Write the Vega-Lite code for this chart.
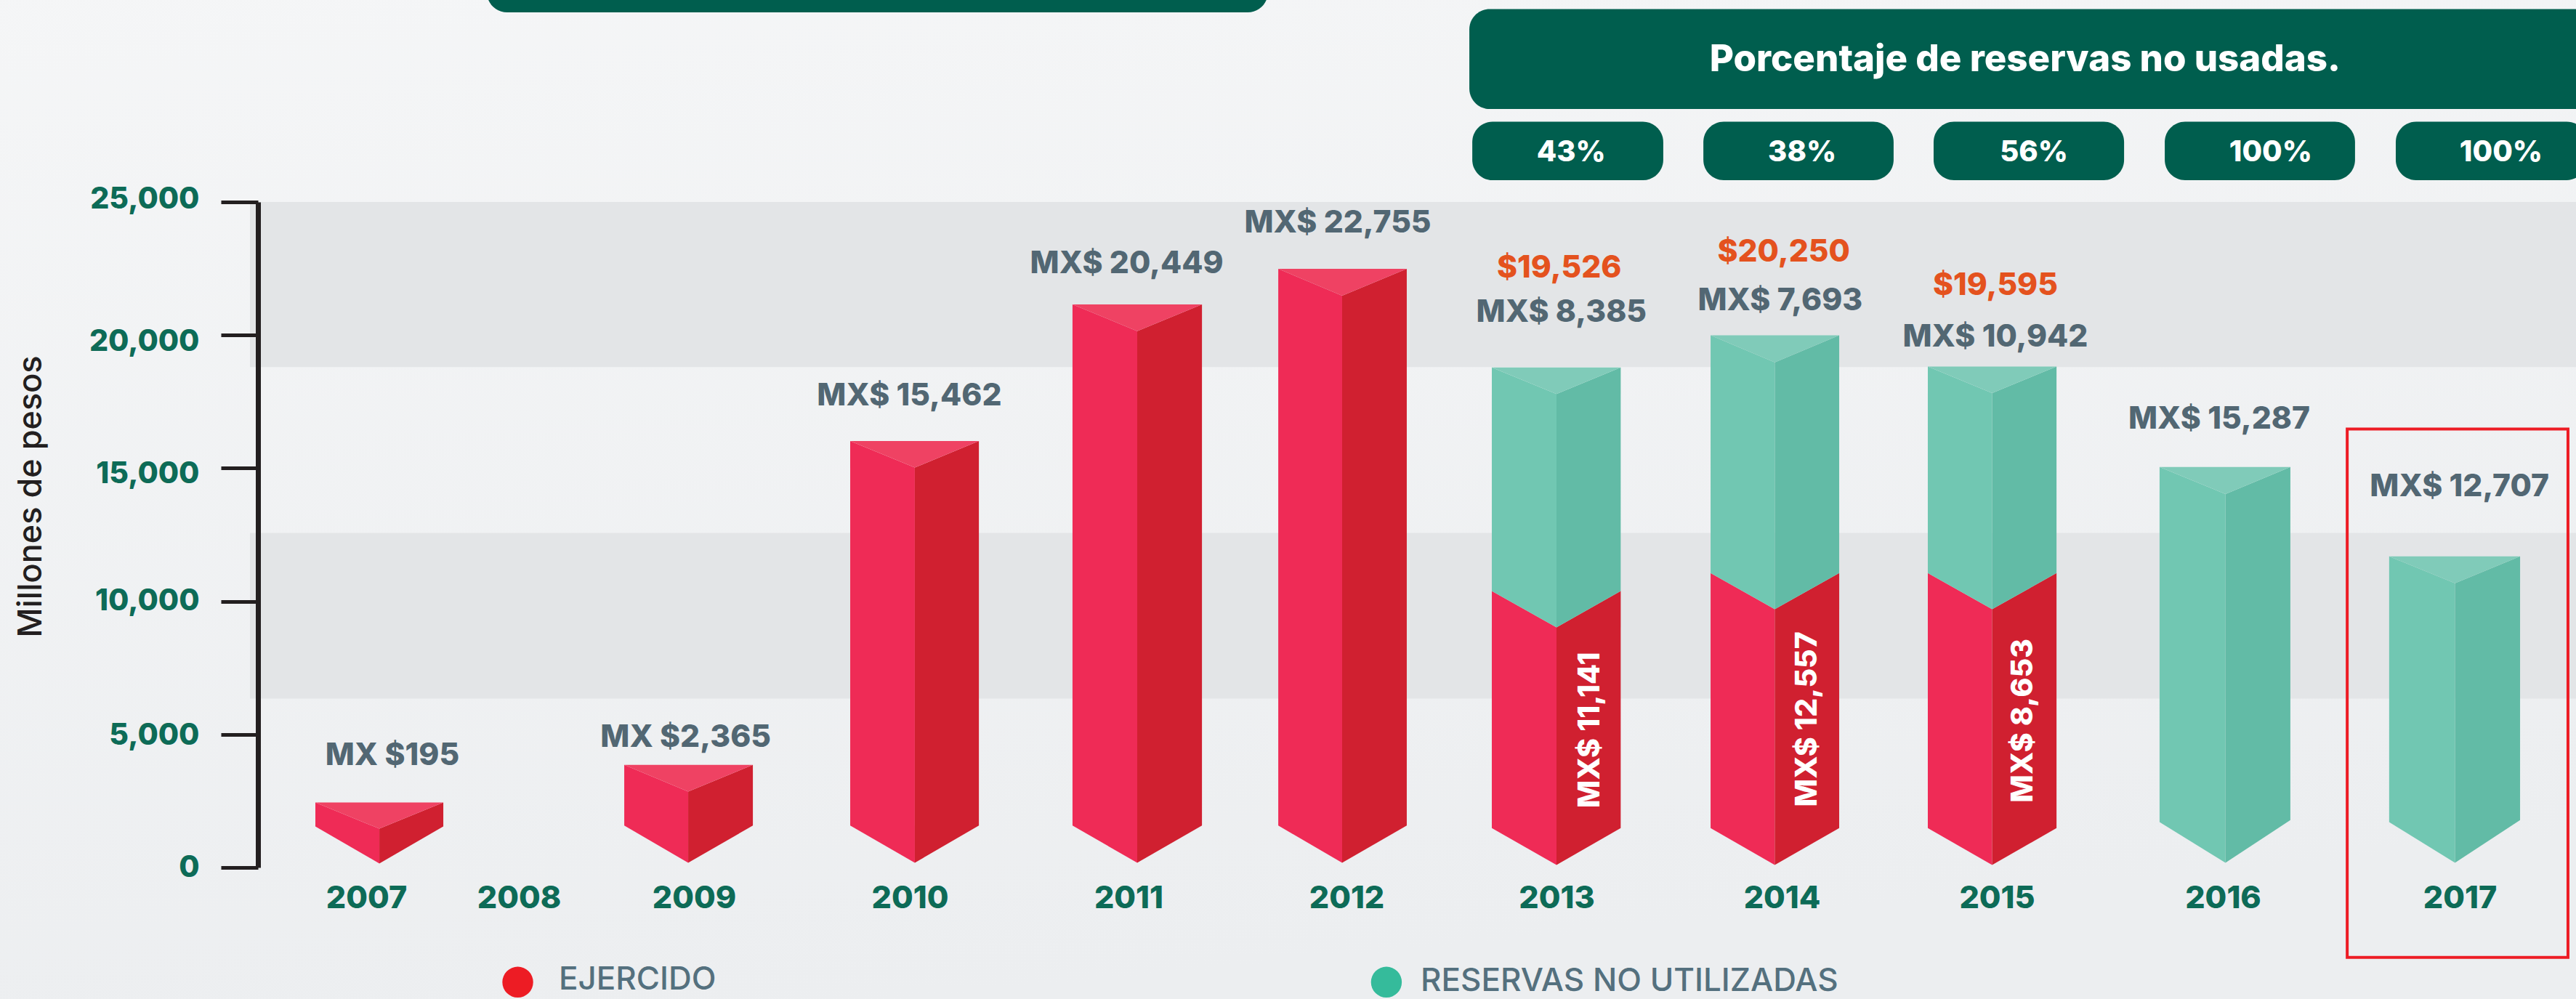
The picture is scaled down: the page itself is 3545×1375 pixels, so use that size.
{
"$schema":"https://vega.github.io/schema/vega-lite/v6.json",
"autosize":"none",
"padding":{"left":355,"top":278,"right":0,"bottom":181},
"width":3190,
"height":916,
"background":"#F1F3F4",
"config":{"view":{"stroke":null},"font":"Inter"},
"datasets":{
"fondo":[{"x":2003,"x2":2019,"y":34000,"y2":-6000}],
"franjas":[{"x":2005.926,"x2":2019,"y":25000,"y2":18795},{"x":2005.926,"x2":2019,"y":12568,"y2":6344}],
"insignias":[
{"nombre":"encabezado superior","x":2007.79,"x2":2011.64,"y":34500,"y2":32122},
{"nombre":"encabezado","x":2012.585,"x2":2018.34,"y":32245,"y2":28493},
{"nombre":"2013","x":2012.599,"x2":2013.474,"y":28018,"y2":25819},
{"nombre":"2014","x":2013.652,"x2":2014.52,"y":28018,"y2":25819},
{"nombre":"2015","x":2014.706,"x2":2015.563,"y":28018,"y2":25819},
{"nombre":"2016","x":2015.743,"x2":2016.558,"y":28018,"y2":25819},
{"nombre":"2017","x":2016.73,"x2":2018.094,"y":28018,"y2":25819}],
"caras":[
{"anio":2007,"cara":"rojo_izq","x":2006.53,"y":2445,"y2":1539},{"anio":2007,"cara":"rojo_izq","x":2007.086,"y":1457,"y2":153},
{"anio":2007,"cara":"rojo_der","x":2007.086,"y":1457,"y2":153},{"anio":2007,"cara":"rojo_der","x":2007.505,"y":2445,"y2":1539},
{"anio":2007,"cara":"rojo_tapa","x":2006.53,"y":2445,"y2":2445},{"anio":2007,"cara":"rojo_tapa","x":2007.086,"y":2445,"y2":1457},{"anio":2007,"cara":"rojo_tapa","x":2007.505,"y":2445,"y2":2445},
{"anio":2009,"cara":"rojo_izq","x":2008.602,"y":3853,"y2":1574},{"anio":2009,"cara":"rojo_izq","x":2008.967,"y":2854,"y2":177},
{"anio":2009,"cara":"rojo_der","x":2008.967,"y":2854,"y2":177},{"anio":2009,"cara":"rojo_der","x":2009.273,"y":3853,"y2":1574},
{"anio":2009,"cara":"rojo_tapa","x":2008.602,"y":3853,"y2":3853},{"anio":2009,"cara":"rojo_tapa","x":2008.967,"y":3853,"y2":2854},{"anio":2009,"cara":"rojo_tapa","x":2009.273,"y":3853,"y2":3853},
{"anio":2010,"cara":"rojo_izq","x":2009.724,"y":16023,"y2":1574},{"anio":2010,"cara":"rojo_izq","x":2010.023,"y":15022,"y2":177},
{"anio":2010,"cara":"rojo_der","x":2010.023,"y":15022,"y2":177},{"anio":2010,"cara":"rojo_der","x":2010.316,"y":16023,"y2":1574},
{"anio":2010,"cara":"rojo_tapa","x":2009.724,"y":16023,"y2":16023},{"anio":2010,"cara":"rojo_tapa","x":2010.023,"y":16023,"y2":15022},{"anio":2010,"cara":"rojo_tapa","x":2010.316,"y":16023,"y2":16023},
{"anio":2011,"cara":"rojo_izq","x":2010.744,"y":21153,"y2":1574},{"anio":2011,"cara":"rojo_izq","x":2011.04,"y":20151,"y2":177},
{"anio":2011,"cara":"rojo_der","x":2011.04,"y":20151,"y2":177},{"anio":2011,"cara":"rojo_der","x":2011.337,"y":21153,"y2":1574},
{"anio":2011,"cara":"rojo_tapa","x":2010.744,"y":21153,"y2":21153},{"anio":2011,"cara":"rojo_tapa","x":2011.04,"y":21153,"y2":20151},{"anio":2011,"cara":"rojo_tapa","x":2011.337,"y":21153,"y2":21153},
{"anio":2012,"cara":"rojo_izq","x":2011.687,"y":22490,"y2":1574},{"anio":2012,"cara":"rojo_izq","x":2011.98,"y":21480,"y2":177},
{"anio":2012,"cara":"rojo_der","x":2011.98,"y":21480,"y2":177},{"anio":2012,"cara":"rojo_der","x":2012.287,"y":22490,"y2":1574},
{"anio":2012,"cara":"rojo_tapa","x":2011.687,"y":22490,"y2":22490},{"anio":2012,"cara":"rojo_tapa","x":2011.98,"y":22490,"y2":21480},{"anio":2012,"cara":"rojo_tapa","x":2012.287,"y":22490,"y2":22490},
{"anio":2013,"cara":"rojo_izq","x":2012.692,"y":10385,"y2":1479},{"anio":2013,"cara":"rojo_izq","x":2013.0,"y":9021,"y2":96},
{"anio":2013,"cara":"rojo_der","x":2013.0,"y":9021,"y2":96},{"anio":2013,"cara":"rojo_der","x":2013.285,"y":10385,"y2":1479},
{"anio":2013,"cara":"verde_izq","x":2012.692,"y":18784,"y2":10385},{"anio":2013,"cara":"verde_izq","x":2013.0,"y":17786,"y2":9021},
{"anio":2013,"cara":"verde_der","x":2013.0,"y":17786,"y2":9021},{"anio":2013,"cara":"verde_der","x":2013.285,"y":18784,"y2":10385},
{"anio":2013,"cara":"verde_tapa","x":2012.692,"y":18784,"y2":18784},{"anio":2013,"cara":"verde_tapa","x":2013.0,"y":18784,"y2":17786},{"anio":2013,"cara":"verde_tapa","x":2013.285,"y":18784,"y2":18784},
{"anio":2014,"cara":"rojo_izq","x":2013.684,"y":11057,"y2":1479},{"anio":2014,"cara":"rojo_izq","x":2013.969,"y":9703,"y2":96},
{"anio":2014,"cara":"rojo_der","x":2013.969,"y":9703,"y2":96},{"anio":2014,"cara":"rojo_der","x":2014.267,"y":11057,"y2":1479},
{"anio":2014,"cara":"verde_izq","x":2013.684,"y":19990,"y2":11057},{"anio":2014,"cara":"verde_izq","x":2013.969,"y":18978,"y2":9703},
{"anio":2014,"cara":"verde_der","x":2013.969,"y":18978,"y2":9703},{"anio":2014,"cara":"verde_der","x":2014.267,"y":19990,"y2":11057},
{"anio":2014,"cara":"verde_tapa","x":2013.684,"y":19990,"y2":19990},{"anio":2014,"cara":"verde_tapa","x":2013.969,"y":19990,"y2":18978},{"anio":2014,"cara":"verde_tapa","x":2014.267,"y":19990,"y2":19990},
{"anio":2015,"cara":"rojo_izq","x":2014.679,"y":11057,"y2":1479},{"anio":2015,"cara":"rojo_izq","x":2014.978,"y":9703,"y2":96},
{"anio":2015,"cara":"rojo_der","x":2014.978,"y":9703,"y2":96},{"anio":2015,"cara":"rojo_der","x":2015.264,"y":11057,"y2":1479},
{"anio":2015,"cara":"verde_izq","x":2014.679,"y":18820,"y2":11057},{"anio":2015,"cara":"verde_izq","x":2014.978,"y":17824,"y2":9703},
{"anio":2015,"cara":"verde_der","x":2014.978,"y":17824,"y2":9703},{"anio":2015,"cara":"verde_der","x":2015.264,"y":18820,"y2":11057},
{"anio":2015,"cara":"verde_tapa","x":2014.679,"y":18820,"y2":18820},{"anio":2015,"cara":"verde_tapa","x":2014.978,"y":18820,"y2":17824},{"anio":2015,"cara":"verde_tapa","x":2015.264,"y":18820,"y2":18820},
{"anio":2016,"cara":"verde_izq","x":2015.72,"y":15043,"y2":1703},{"anio":2016,"cara":"verde_izq","x":2016.011,"y":14031,"y2":177},
{"anio":2016,"cara":"verde_der","x":2016.011,"y":14031,"y2":177},{"anio":2016,"cara":"verde_der","x":2016.285,"y":15043,"y2":1779},
{"anio":2016,"cara":"verde_tapa","x":2015.72,"y":15043,"y2":15043},{"anio":2016,"cara":"verde_tapa","x":2016.011,"y":15043,"y2":14031},{"anio":2016,"cara":"verde_tapa","x":2016.285,"y":15043,"y2":15043},
{"anio":2017,"cara":"verde_izq","x":2016.702,"y":11687,"y2":1703},{"anio":2017,"cara":"verde_izq","x":2016.98,"y":10677,"y2":177},
{"anio":2017,"cara":"verde_der","x":2016.98,"y":10677,"y2":177},{"anio":2017,"cara":"verde_der","x":2017.519,"y":11687,"y2":1779},
{"anio":2017,"cara":"verde_tapa","x":2016.702,"y":11687,"y2":11687},{"anio":2017,"cara":"verde_tapa","x":2016.98,"y":11687,"y2":10677},{"anio":2017,"cara":"verde_tapa","x":2017.519,"y":11687,"y2":11687}
],
"montos":[
{"texto":"MX $195","x":2007.171,"y":4208,"tipo":"ejercido"},
{"texto":"MX $2,365","x":2008.953,"y":4877,"tipo":"ejercido"},
{"texto":"MX$ 15,462","x":2009.998,"y":17717,"tipo":"ejercido"},
{"texto":"MX$ 20,449","x":2010.992,"y":22692,"tipo":"ejercido"},
{"texto":"MX$ 22,755","x":2011.96,"y":24220,"tipo":"ejercido"},
{"texto":"MX$ 8,385","x":2013.022,"y":20855,"tipo":"ejercido"},
{"texto":"MX$ 7,693","x":2013.993,"y":21292,"tipo":"ejercido"},
{"texto":"MX$ 10,942","x":2014.993,"y":19919,"tipo":"ejercido"},
{"texto":"MX$ 15,287","x":2015.984,"y":16849,"tipo":"ejercido"},
{"texto":"MX$ 12,707","x":2016.999,"y":14292,"tipo":"ejercido"},
{"texto":"$19,526","x":2013.012,"y":22503,"tipo":"total"},
{"texto":"$20,250","x":2014.009,"y":23120,"tipo":"total"},
{"texto":"$19,595","x":2014.993,"y":21868,"tipo":"total"}],
"verticales":[
{"texto":"MX$ 11,141","x":2013.15,"y":5163},
{"texto":"MX$ 12,557","x":2014.12,"y":5573},
{"texto":"MX$ 8,653","x":2015.118,"y":5518}],
"porcentajes":[
{"texto":"43%","x":2013.065,"y":26859},
{"texto":"38%","x":2014.095,"y":26859},
{"texto":"56%","x":2015.164,"y":26859},
{"texto":"100%","x":2016.202,"y":26859},
{"texto":"100%","x":2017.356,"y":26859}],
"leyenda":[
{"texto":"EJERCIDO","serie":"Ejercido","xp":2007.993,"x":2008.228,"y":-4306,"yt":-4230},
{"texto":"RESERVAS NO UTILIZADAS","serie":"Reservas","xp":2012.19,"x":2012.353,"y":-4306,"yt":-4280}]
},
"encoding":{
"x":{"field":"x","type":"quantitative",
"scale":{"type":"linear","nice":false,"zero":false,
"domain":[2006,2007,2008,2009,2010,2011,2012,2013,2014,2015,2016,2017,2018],
"range":[0,149,359,600,897,1198,1498,1787,2097,2393,2704,3030,3190]},
"axis":{"title":null,"values":[2007,2008,2009,2010,2011,2012,2013,2014,2015,2016,2017],"format":"d","domain":false,"ticks":false,"grid":false,"labelPadding":21,"labelFont":"Inter","labelFontWeight":800,"labelFontSize":43,"labelColor":"#0D6B57","labelOverlap":false,"labelBound":false,"labelFlush":false,"zindex":1}},
"y":{"field":"y","type":"quantitative",
"scale":{"domain":[0,25000],"nice":false,"zero":false},
"axis":{"title":"Millones de pesos","titleX":-290,"titleY":405,"titleFont":"Inter","titleFontWeight":500,"titleFontSize":45,"titleColor":"#231F20","values":[0,5000,10000,15000,20000,25000],"format":",d","grid":false,"domainColor":"#231F20","domainWidth":7,"tickColor":"#231F20","tickWidth":5,"tickSize":51,"labelPadding":30,"labelFont":"Inter","labelFontWeight":800,"labelFontSize":41,"labelColor":"#0D6B57","labelOverlap":false,"labelBound":false,"labelOffset":{"expr":"datum.value==25000?-4:(datum.value==20000?9:(datum.value==15000?8:(datum.value==5000?2:0)))"},"zindex":1}}
},
"layer":[
{"data":{"name":"fondo"},"mark":{"type":"rect","color":{"gradient":"linear","x1":0,"y1":0,"x2":0.25,"y2":1,"stops":[{"offset":0,"color":"#F5F6F7"},{"offset":1,"color":"#ECEEF0"}]}},"encoding":{"x2":{"field":"x2"},"y2":{"field":"y2"}}},
{"data":{"name":"franjas"},"mark":{"type":"rect","color":"#E3E5E7"},"encoding":{"x2":{"field":"x2"},"y2":{"field":"y2"}}},
{"data":{"name":"insignias"},"mark":{"type":"rect","color":"#005E4E","cornerRadius":28},"encoding":{"x2":{"field":"x2"},"y2":{"field":"y2"}}},
{"data":{"name":"caras"},"mark":{"type":"area","orient":"vertical"},"encoding":{
"y2":{"field":"y2"},
"detail":{"field":"anio"},
"color":{"field":"cara","type":"nominal","legend":null,"scale":{"domain":["rojo_izq","rojo_der","rojo_tapa","verde_izq","verde_der","verde_tapa"],"range":["#EF2B56","#D02030","#EF4263","#71C7B2","#62BBA6","#80CBB9"]}}}},
{"data":{"values":[{"x":2016.525,"x2":2017.931,"y":16470,"y2":-3378}]},"mark":{"type":"rect","fillOpacity":0,"stroke":"#ED1C24","strokeWidth":4},"encoding":{"x2":{"field":"x2"},"y2":{"field":"y2"}}},
{"data":{"name":"montos"},"mark":{"type":"text","font":"Inter","fontWeight":800,"fontSize":42.5,"baseline":"middle","align":"center"},"encoding":{"text":{"field":"texto"},"color":{"field":"tipo","type":"nominal","legend":null,"scale":{"domain":["ejercido","total"],"range":["#526773","#E4521E"]}}}},
{"data":{"name":"verticales"},"mark":{"type":"text","font":"Inter","fontWeight":800,"fontSize":41,"baseline":"middle","align":"center","angle":270,"color":"#FFFFFF"},"encoding":{"text":{"field":"texto"}}},
{"data":{"name":"porcentajes"},"mark":{"type":"text","font":"Inter","fontWeight":800,"fontSize":40,"baseline":"middle","align":"center","color":"#FFFFFF"},"encoding":{"text":{"field":"texto"}}},
{"data":{"values":[{"texto":"Porcentaje de reservas no usadas.","x":2015.125,"y":30325}]},"mark":{"type":"text","font":"Inter","fontWeight":800,"fontSize":51,"baseline":"middle","align":"center","color":"#FFFFFF"},"encoding":{"text":{"field":"texto"}}},
{"data":{"name":"leyenda"},"mark":{"type":"point","filled":true,"shape":"circle","size":1800,"opacity":1},"encoding":{"x":{"field":"xp","type":"quantitative"},"color":{"field":"serie","type":"nominal","legend":null,"scale":{"domain":["Ejercido","Reservas"],"range":["#ED1C24","#35BB9B"]}}}},
{"data":{"name":"leyenda"},"mark":{"type":"text","font":"Inter","fontWeight":500,"fontSize":44,"baseline":"middle","align":"left","color":"#54707E"},"encoding":{"y":{"field":"yt","type":"quantitative"},"text":{"field":"texto"}}}
],
"resolve":{"scale":{"color":"independent"}}
}
